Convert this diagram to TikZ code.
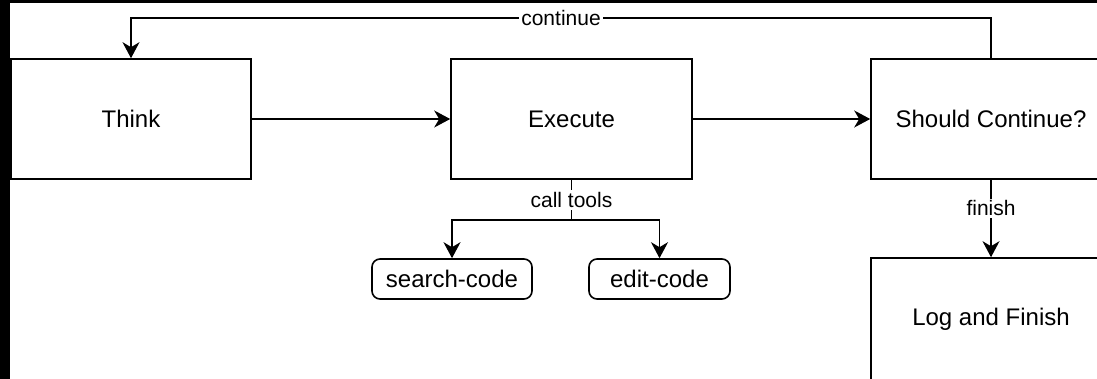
\documentclass[tikz,border=0pt]{standalone}
\usepackage{fontspec}
\setmainfont{Liberation Sans}
\usepackage{tikz}
\usetikzlibrary{arrows.meta}

\tikzset{
	block/.style={draw=black,fill=white,line width=.8pt,inner sep=0pt,minimum width=120pt,minimum height=60pt,font=\fontsize{12}{14}\selectfont},
	tool/.style={draw=black,fill=white,line width=.8pt,rounded corners=4pt,inner sep=0pt,minimum height=20pt,font=\fontsize{12}{14}\selectfont},
	lbl/.style={fill=white,inner sep=1pt,font=\fontsize{10.5}{12}\selectfont},
	flow/.style={line width=.8pt,-{Stealth[length=8pt,width=8.5pt,inset=2.5pt]}}
}

\begin{document}
\begin{tikzpicture}
	\begin{scope}[x=.5pt,y=-.5pt]
		\useasboundingbox (0,0) rectangle (1097,379);
		\fill[black] (0,0) rectangle (1097,379);
		\fill[white] (10,3.5) rectangle (1097,379);
		\clip (10,3.5) rectangle (1097,379);

		% main loop
		\node[block] at (131,119) (think) {Think};
		\node[block,minimum width=120.5pt] at (571.5,119) (exec) {Execute};
		\node[block] at (991,119) (cont) {Should Continue?};
		\node[block,minimum height=61pt] at (991,319) (log) {Log and Finish};

		% tools
		\node[tool,minimum width=80pt] at (452,279) (search) {search-code};
		\node[tool,minimum width=70.5pt] at (659.5,279) (edit) {edit-code};

		\draw[flow] (think.east) -- (exec.west);
		\draw[flow] (exec.east) -- (cont.west);
		\draw[flow] (cont.north) -- ++(0,-40) -| node[lbl,pos=.25] {continue} (think.north);
		\draw[flow] (cont.south) -- node[lbl,pos=.37] {finish} (log.north);

		\draw[flow] (exec.south) -- ++(0,40) -| (edit.north);
		\draw[flow] (exec.south) -- node[lbl] {call tools} ++(0,40) -| (search.north);
	\end{scope}
\end{tikzpicture}
\end{document}
